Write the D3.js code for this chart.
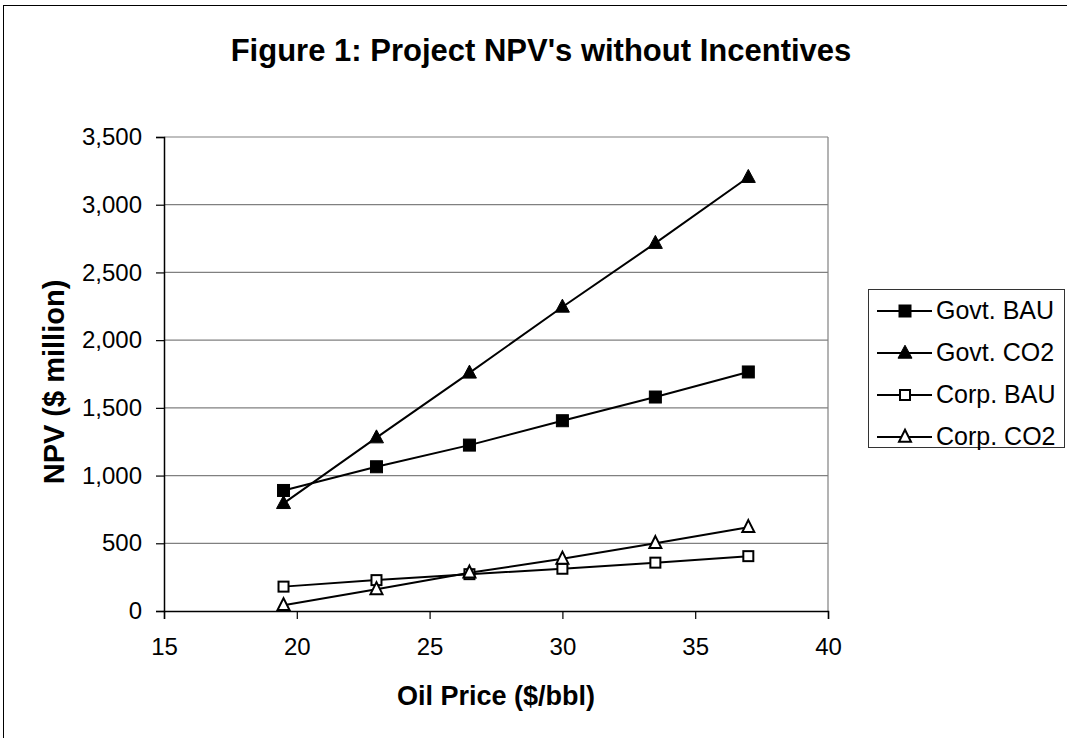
<!DOCTYPE html>
<html><head><meta charset="utf-8">
<script src="https://cdn.jsdelivr.net/npm/d3@7/dist/d3.min.js"></script>
<style>body{margin:0;background:#fff;} svg{display:block;font-family:"Liberation Sans",Arial,sans-serif;}</style>
</head><body>
<svg id="c" width="1067" height="738"></svg>
<script>
const oilPrices = [19.5, 23, 26.5, 30, 33.5, 37];
const govtBAU = [890, 1065, 1225, 1405, 1580, 1765];
const govtCO2 = [795, 1280, 1758, 2245, 2716, 3203];
const corpBAU = [180, 228, 272, 312, 357, 405];
const corpCO2 = [42, 160, 282, 385, 500, 618];
const seriesNames = ["Govt. BAU", "Govt. CO2", "Corp. BAU", "Corp. CO2"];
const xTicks = [15, 20, 25, 30, 35, 40];
const yTicks = [0, 500, 1000, 1500, 2000, 2500, 3000, 3500];

const series = [
  {name: seriesNames[0], values: govtBAU, shape: "square", fill: "#000"},
  {name: seriesNames[1], values: govtCO2, shape: "triangle", fill: "#000"},
  {name: seriesNames[2], values: corpBAU, shape: "square", fill: "#fff"},
  {name: seriesNames[3], values: corpCO2, shape: "triangle", fill: "#fff"}
];

const svg = d3.select("#c");
svg.append("rect").attr("x", 3.5).attr("y", 5.5).attr("width", 1080).attr("height", 760)
  .attr("fill", "none").attr("stroke", "#000").attr("stroke-width", 1);

const L = 164, R = 828, T = 137, B = 611;
const x = d3.scaleLinear().domain([15, 40]).range([L, R]);
const y = d3.scaleLinear().domain([0, 3500]).range([B, T]);

svg.append("g").selectAll("line").data(yTicks.filter(d => d > 0)).join("line")
  .attr("x1", L).attr("x2", R).attr("y1", d => y(d)).attr("y2", d => y(d))
  .attr("stroke", "#808080").attr("stroke-width", 1.2);
svg.append("line").attr("x1", R).attr("x2", R).attr("y1", T).attr("y2", B)
  .attr("stroke", "#808080").attr("stroke-width", 1.2);

const yAxis = svg.append("g").attr("transform", `translate(${L},0)`)
  .call(d3.axisLeft(y).tickValues(yTicks).tickSize(8).tickPadding(14).tickFormat(d3.format(",")));
yAxis.select(".domain").attr("stroke", "#000").attr("stroke-width", 1.5);
yAxis.selectAll(".tick line").attr("stroke", "#000").attr("stroke-width", 1.2);
yAxis.selectAll("text").attr("font-size", 24).attr("fill", "#000").attr("font-family", "Liberation Sans, Arial");

const xAxis = svg.append("g").attr("transform", `translate(0,${B})`)
  .call(d3.axisBottom(x).tickValues(xTicks).tickSize(8).tickPadding(19).tickFormat(d3.format("d")));
xAxis.select(".domain").attr("stroke", "#000").attr("stroke-width", 1.5);
xAxis.selectAll(".tick line").attr("stroke", "#000").attr("stroke-width", 1.2);
xAxis.selectAll("text").attr("font-size", 24).attr("fill", "#000").attr("font-family", "Liberation Sans, Arial");

const line = d3.line().x((d, i) => x(oilPrices[i])).y(d => y(d));
series.forEach(s => {
  svg.append("path").attr("d", line(s.values)).attr("fill", "none")
    .attr("stroke", "#000").attr("stroke-width", 2);
});

function marker(g, s, cx, cy) {
  if (s.shape === "square") {
    const sz = s.fill === "#000" ? 12 : 10;
    g.append("rect").attr("x", cx - sz / 2).attr("y", cy - sz / 2).attr("width", sz).attr("height", sz)
      .attr("fill", s.fill).attr("stroke", "#000").attr("stroke-width", s.fill === "#000" ? 1 : 2);
  } else {
    const w = s.fill === "#000" ? 14 : 12, h = s.fill === "#000" ? 13 : 12;
    g.append("path").attr("d", `M${cx},${cy - h * 0.6}L${cx + w / 2},${cy + h * 0.4}L${cx - w / 2},${cy + h * 0.4}Z`)
      .attr("fill", s.fill).attr("stroke", "#000").attr("stroke-width", s.fill === "#000" ? 1 : 2);
  }
}
series.forEach(s => {
  const g = svg.append("g");
  s.values.forEach((v, i) => marker(g, s, x(oilPrices[i]), y(v)));
});

svg.append("text").attr("x", 541).attr("y", 61).attr("text-anchor", "middle")
  .attr("font-size", 31).attr("font-weight", "bold").text("Figure 1: Project NPV's without Incentives");
svg.append("text").attr("x", 496).attr("y", 705).attr("text-anchor", "middle")
  .attr("font-size", 27).attr("font-weight", "bold").text("Oil Price ($/bbl)");
svg.append("text").attr("transform", "translate(64,382) rotate(-90)").attr("text-anchor", "middle")
  .attr("font-size", 29).attr("font-weight", "bold").text("NPV ($ million)");

const lg = svg.append("g");
lg.append("rect").attr("x", 868.5).attr("y", 289.5).attr("width", 196).attr("height", 158)
  .attr("fill", "#fff").attr("stroke", "#333").attr("stroke-width", 1);
series.forEach((s, i) => {
  const yy = 311 + i * 42;
  lg.append("line").attr("x1", 877).attr("x2", 932).attr("y1", yy).attr("y2", yy)
    .attr("stroke", "#000").attr("stroke-width", 2);
  marker(lg, s, 905, yy);
  lg.append("text").attr("x", 936).attr("y", yy + 8).attr("font-size", 25).text(s.name);
});
</script>
</body></html>
